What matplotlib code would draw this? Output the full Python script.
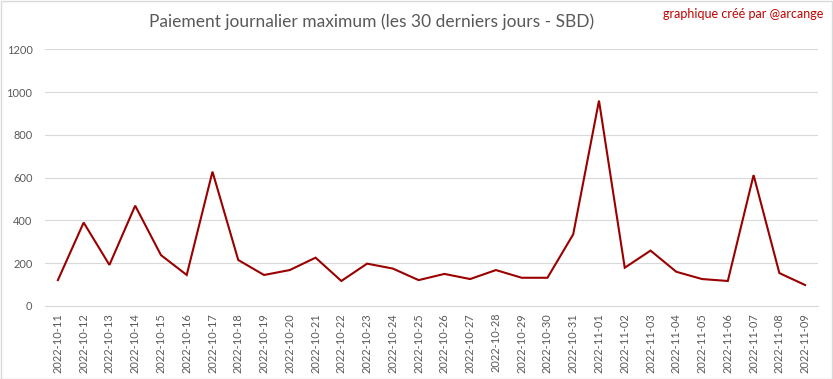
import matplotlib
matplotlib.use("Agg")
import matplotlib.pyplot as plt
from matplotlib.patches import Rectangle

dates = ["2022-10-11", "2022-10-12", "2022-10-13", "2022-10-14", "2022-10-15",
         "2022-10-16", "2022-10-17", "2022-10-18", "2022-10-19", "2022-10-20",
         "2022-10-21", "2022-10-22", "2022-10-23", "2022-10-24", "2022-10-25",
         "2022-10-26", "2022-10-27", "2022-10-28", "2022-10-29", "2022-10-30",
         "2022-10-31", "2022-11-01", "2022-11-02", "2022-11-03", "2022-11-04",
         "2022-11-05", "2022-11-06", "2022-11-07", "2022-11-08", "2022-11-09"]
values = [121, 390, 192, 469, 238, 145, 628, 215, 145, 168,
          226, 117, 198, 175, 121, 150, 126, 168, 132, 132,
          335, 960, 179, 259, 160, 126, 117, 612, 154, 98]
yticks = [0, 200, 400, 600, 800, 1000, 1200]

title = "Paiement journalier maximum (les 30 derniers jours - SBD)"
credit = "graphique créé par @arcange"

plt.rcParams['font.family'] = ['Lato', 'DejaVu Sans']

W, H = 833, 379
fig = plt.figure(figsize=(W / 100, H / 100), dpi=100)
fig.patch.set_facecolor("white")

left, right, top, bottom = 45, 818, 49.3, 306
ax = fig.add_axes([left / W, 1 - bottom / H, (right - left) / W, (bottom - top) / H])

x = list(range(len(dates)))
ax.plot(x, values, color="#9B0000", linewidth=1.5, solid_joinstyle="miter")

ax.set_xlim(-0.5, len(dates) - 0.5)
ax.set_ylim(0, 1200)
ax.set_yticks(yticks)
ax.set_yticklabels([str(v) for v in yticks])
ax.set_xticks(x)
ax.set_xticklabels(dates, rotation=90)

ax.grid(axis="y", color="#D9D9D9", linewidth=0.8)
ax.set_axisbelow(True)
for s in ["top", "right", "left"]:
    ax.spines[s].set_visible(False)
ax.spines["bottom"].set_color("#D9D9D9")
ax.spines["bottom"].set_linewidth(0.8)

ax.tick_params(axis="both", length=0, colors="#595959", labelsize=7.9)
ax.tick_params(axis="y", pad=9)
ax.tick_params(axis="x", pad=5)

fig.text(371.5 / W, 1 - 22 / H, title, ha="center", va="center",
         fontsize=12.5, color="#595959")
fig.text(823 / W, 1 - 14 / H, credit, ha="right", va="center",
         fontsize=9.0, color="#C00000")

fig.patches.append(Rectangle((0.5 / W, 0.5 / H), (W - 2) / W, (H - 1.5) / H,
                             transform=fig.transFigure, fill=False,
                             edgecolor="#D9D9D9", linewidth=1))

fig.savefig("out.png", dpi=100)
